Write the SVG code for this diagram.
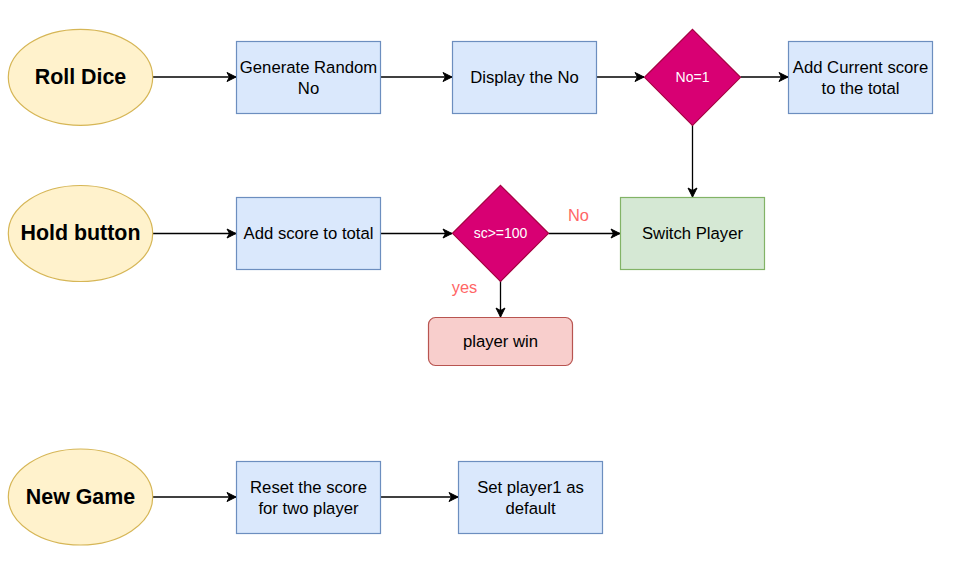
<svg xmlns="http://www.w3.org/2000/svg" width="970" height="579" viewBox="0 0 970 579">
<defs>
<marker id="arr" markerUnits="userSpaceOnUse" markerWidth="12" markerHeight="12" viewBox="0 0 12 12" refX="10" refY="6" orient="auto">
<path d="M1,1.5 L10,6 L1,10.5 L3.5,6 Z" fill="#000" stroke="#000" stroke-width="1"/>
</marker>
<style>
.ell{fill:#fff2cc;stroke:#d6b656;stroke-width:1.2}
.blue{fill:#dae8fc;stroke:#6c8ebf;stroke-width:1.2}
.green{fill:#d5e8d4;stroke:#82b366;stroke-width:1.2}
.red{fill:#f8cecc;stroke:#b85450;stroke-width:1.2}
.dia{fill:#d80073;stroke:#a50040;stroke-width:1.2}
text{font-family:"Liberation Sans",Arial,sans-serif;text-anchor:middle}
.t{font-size:16.7px;fill:#000}
.b{font-size:21.4px;font-weight:bold;fill:#000}
.w{font-size:14px;fill:#fff}
.lbl{font-size:16.4px;fill:#ff6666}
.edge{fill:none;stroke:#000;stroke-width:1.3;marker-end:url(#arr)}
</style>
</defs>
<g id="connectors">
<path class="edge" d="M153,77 L236,77"/>
<path class="edge" d="M380.5,77 L452,77"/>
<path class="edge" d="M596.5,77 L644,77"/>
<path class="edge" d="M740.5,77 L788,77"/>
<path class="edge" d="M692.5,125 L692.5,197"/>
<path class="edge" d="M153,233.5 L236,233.5"/>
<path class="edge" d="M380.5,233.5 L452,233.5"/>
<path class="edge" d="M548.5,233.5 L620,233.5"/>
<path class="edge" d="M500.5,281 L500.5,317"/>
<path class="edge" d="M153,497 L236,497"/>
<path class="edge" d="M380.5,497 L458,497"/>
<text class="lbl" x="578.5" y="220.5">No</text>
<text class="lbl" x="464.5" y="293">yes</text>
</g>
<g id="roll-dice">
<ellipse class="ell" cx="80.5" cy="77.3" rx="72.2" ry="48"/>
<text class="b" x="80.5" y="84">Roll Dice</text>
</g>
<g id="generate-random">
<rect class="blue" x="236.5" y="41.5" width="144" height="72"/>
<text class="t" x="308.5" y="72.8">Generate Random</text>
<text class="t" x="308.5" y="94">No</text>
</g>
<g id="display-no">
<rect class="blue" x="452.5" y="41.5" width="144" height="72"/>
<text class="t" x="524.5" y="82.8">Display the No</text>
</g>
<g id="no-eq-1">
<path class="dia" d="M692.5,29.3 L740.5,77.3 L692.5,125.3 L644.5,77.3 Z"/>
<text class="w" x="692.5" y="81.8">No=1</text>
</g>
<g id="add-current">
<rect class="blue" x="788.5" y="41.5" width="144" height="72"/>
<text class="t" x="860.5" y="72.8">Add Current score</text>
<text class="t" x="860.5" y="94">to the total</text>
</g>
<g id="hold-button">
<ellipse class="ell" cx="80.5" cy="233.5" rx="72.2" ry="48"/>
<text class="b" x="80.5" y="240.3">Hold button</text>
</g>
<g id="add-score">
<rect class="blue" x="236.5" y="197.5" width="144" height="72"/>
<text class="t" x="308.5" y="238.8">Add score to total</text>
</g>
<g id="sc-100">
<path class="dia" d="M500.5,185.3 L548.5,233.3 L500.5,281.3 L452.5,233.3 Z"/>
<text class="w" x="500.5" y="238">sc&gt;=100</text>
</g>
<g id="switch-player">
<rect class="green" x="620.5" y="197.5" width="144" height="72"/>
<text class="t" x="692.5" y="238.8">Switch Player</text>
</g>
<g id="player-win">
<rect class="red" x="428.5" y="317.5" width="144" height="48" rx="7" ry="7"/>
<text class="t" x="500.5" y="346.8">player win</text>
</g>
<g id="new-game">
<ellipse class="ell" cx="80.5" cy="497" rx="72.2" ry="48"/>
<text class="b" x="80.5" y="503.8">New Game</text>
</g>
<g id="reset-score">
<rect class="blue" x="236.5" y="461.5" width="144" height="72"/>
<text class="t" x="308.5" y="492.8">Reset the score</text>
<text class="t" x="308.5" y="514">for two player</text>
</g>
<g id="set-player1">
<rect class="blue" x="458.5" y="461.5" width="144" height="72"/>
<text class="t" x="530.5" y="492.8">Set player1 as</text>
<text class="t" x="530.5" y="514">default</text>
</g>
</svg>
